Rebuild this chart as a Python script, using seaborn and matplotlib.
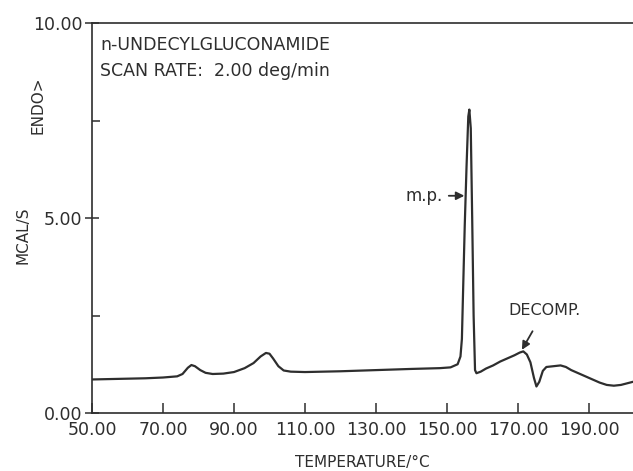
import pandas as pd
import matplotlib
matplotlib.use("Agg")
import matplotlib.pyplot as plt
import seaborn as sns

# DSC trace of n-undecylgluconamide
temperature = [50, 55, 60, 65, 70, 74, 75.5, 77, 78, 79, 80.5, 82, 84, 87, 90, 93,
               95.5, 97.5, 99, 100, 101, 102.5, 104, 106, 110, 120, 130, 140, 148,
               151, 153, 153.8, 154.2, 154.5, 155, 155.5, 156.0, 156.3, 156.7,
               157.1, 157.5, 157.9, 158.3, 159.5, 161, 163, 165, 167, 169, 170.5,
               171.5, 172.5, 173.5, 174.5, 175.2, 176, 177, 178, 180, 182, 183.5,
               185, 187, 189, 191, 193, 195, 197, 199, 202.4]
heat_flow = [0.86, 0.87, 0.88, 0.89, 0.91, 0.94, 1.00, 1.16, 1.23, 1.20, 1.10, 1.03,
             1.00, 1.01, 1.05, 1.15, 1.28, 1.45, 1.54, 1.52, 1.40, 1.20, 1.09, 1.06,
             1.05, 1.07, 1.10, 1.13, 1.15, 1.17, 1.25, 1.45, 1.9, 3.0, 4.8, 6.3,
             7.6, 7.78, 7.3, 5.0, 2.5, 1.10, 1.02, 1.06, 1.14, 1.22, 1.32, 1.40,
             1.48, 1.55, 1.58, 1.50, 1.30, 0.90, 0.68, 0.80, 1.08, 1.18, 1.20, 1.22,
             1.18, 1.10, 1.02, 0.94, 0.86, 0.78, 0.72, 0.70, 0.72, 0.80]

x_ticks = [50, 70, 90, 110, 130, 150, 170, 190]
x_labels = ["50.00", "70.00", "90.00", "110.00", "130.00", "150.00", "170.00", "190.00"]
y_ticks = [0, 5, 10]
y_labels = ["0.00", "5.00", "10.00"]

df = pd.DataFrame({"temp": temperature, "mcal": heat_flow})

sns.set_style("ticks")
plt.rcParams["font.family"] = ["DejaVu Sans"]
ink = "#2e2e2e"

fig = plt.figure(figsize=(6.33, 4.71), dpi=100)
ax = fig.add_axes([92 / 633, 1 - 413 / 471, 541 / 633, 390 / 471])

sns.lineplot(data=df, x="temp", y="mcal", ax=ax, color=ink, linewidth=1.6)

ax.set_xlim(50, 202.4)
ax.set_ylim(0, 10)
ax.set_xticks(x_ticks)
ax.set_xticklabels(x_labels)
ax.set_yticks(y_ticks)
ax.set_yticklabels(y_labels)
ax.set_yticks([2.5, 7.5], minor=True)
ax.tick_params(axis="x", direction="in", length=7, width=1.1, colors=ink,
               labelsize=12.5, pad=6)
ax.tick_params(axis="y", which="major", direction="inout", length=10, width=1.1,
               colors=ink, labelsize=12.5, pad=2)
ax.tick_params(axis="y", which="minor", direction="in", length=6, width=1.1, colors=ink)
ax.set_xlabel("")
ax.set_ylabel("")

ax.spines["right"].set_visible(False)
for side in ["left", "bottom", "top"]:
    ax.spines[side].set_color(ink)
    ax.spines[side].set_linewidth(1.2)

# header text inside the box
fig.text(100 / 633, 1 - 45 / 471, "n-UNDECYLGLUCONAMIDE", fontsize=12.5,
         color=ink, va="center", ha="left")
fig.text(100 / 633, 1 - 71 / 471, "SCAN RATE:  2.00 deg/min", fontsize=12.5,
         color=ink, va="center", ha="left")

# axis titles
fig.text(362 / 633, 1 - 462 / 471, "TEMPERATURE/°C", fontsize=11, color=ink,
         ha="center", va="center")
fig.text(23 / 633, 1 - 235 / 471, "MCAL/S", fontsize=11, color=ink,
         ha="center", va="center", rotation=90)
fig.text(38 / 633, 1 - 105 / 471, "ENDO>", fontsize=11, color=ink,
         ha="center", va="center", rotation=90)

# annotations
ax.annotate("m.p.", xy=(154.9, 5.57), xytext=(148.8, 5.57), fontsize=12,
            color=ink, ha="right", va="center",
            arrowprops=dict(arrowstyle="-|>", color=ink, lw=1.3,
                            shrinkA=2, shrinkB=0, mutation_scale=12))
ax.annotate("DECOMP.", xy=(171.1, 1.62), xytext=(177.4, 2.62), fontsize=11.5,
            color=ink, ha="center", va="center",
            arrowprops=dict(arrowstyle="-|>", color=ink, lw=1.3,
                            shrinkA=8, shrinkB=0, mutation_scale=12))

fig.savefig("out.png", dpi=100)
